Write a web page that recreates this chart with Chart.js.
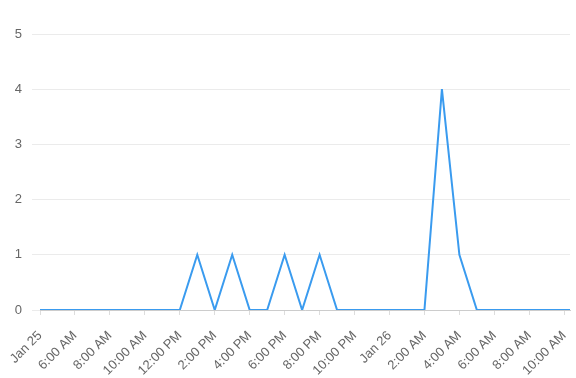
<!DOCTYPE html>
<html>
<head>
<meta charset="utf-8">
<script src="https://cdn.jsdelivr.net/npm/chart.js@4.4.1/dist/chart.umd.min.js"></script>
<style>
  html, body { margin: 0; padding: 0; background: #fff; }
  #wrap { width: 576px; height: 378px; }
</style>
</head>
<body>
<div id="wrap"><canvas id="chart" width="576" height="378"></canvas></div>
<script>
// hours since Jan 25 00:00
const hours = [4, 5, 6, 7, 8, 9, 10, 11, 12, 13, 14, 15, 16, 17, 18, 19, 20, 21,
  22, 23, 24, 25, 26, 27, 28, 29, 30, 31, 32, 33, 34, 34.33];
const counts = [0, 0, 0, 0, 0, 0, 0, 0, 0, 1, 0, 1, 0, 0, 1, 0, 1, 0,
  0, 0, 0, 0, 0, 4, 1, 0, 0, 0, 0, 0, 0, 0];
const tickHours = [4, 6, 8, 10, 12, 14, 16, 18, 20, 22, 24, 26, 28, 30, 32, 34];
const tickLabels = ['Jan 25', '6:00 AM', '8:00 AM', '10:00 AM', '12:00 PM', '2:00 PM',
  '4:00 PM', '6:00 PM', '8:00 PM', '10:00 PM', 'Jan 26', '2:00 AM', '4:00 AM',
  '6:00 AM', '8:00 AM', '10:00 AM'];

new Chart(document.getElementById('chart'), {
  type: 'line',
  data: {
    datasets: [{
      data: hours.map((h, i) => ({ x: h, y: counts[i] })),
      borderColor: '#3a9bef',
      borderWidth: 2,
      pointRadius: 0,
      tension: 0,
      fill: false
    }]
  },
  options: {
    responsive: false,
    animation: false,
    layout: { padding: { top: 34, right: 6, left: 0, bottom: 0 } },
    plugins: { legend: { display: false }, tooltip: { enabled: false } },
    scales: {
      x: {
        type: 'linear',
        min: 4,
        max: 34.33,
        afterBuildTicks: scale => { scale.ticks = tickHours.map(v => ({ value: v })); },
        afterFit: scale => {
          scale.height = 68;
          scale.paddingRight = 0;
          scale.paddingLeft = 0;
        },
        ticks: {
          color: '#666',
          font: { size: 13 },
          maxRotation: 45,
          minRotation: 45,
          autoSkip: false,
          padding: 13,
          callback: (v, i) => tickLabels[i]
        },
        grid: { drawOnChartArea: false, tickLength: 5, color: '#ddd' },
        border: { color: '#ccc' }
      },
      y: {
        min: 0,
        max: 5,
        afterFit: scale => { scale.width = 40; },
        ticks: { stepSize: 1, color: '#666', font: { size: 13 }, padding: 10 },
        grid: { color: '#ebebeb' },
        border: { display: false }
      }
    }
  }
});
</script>
</body>
</html>
